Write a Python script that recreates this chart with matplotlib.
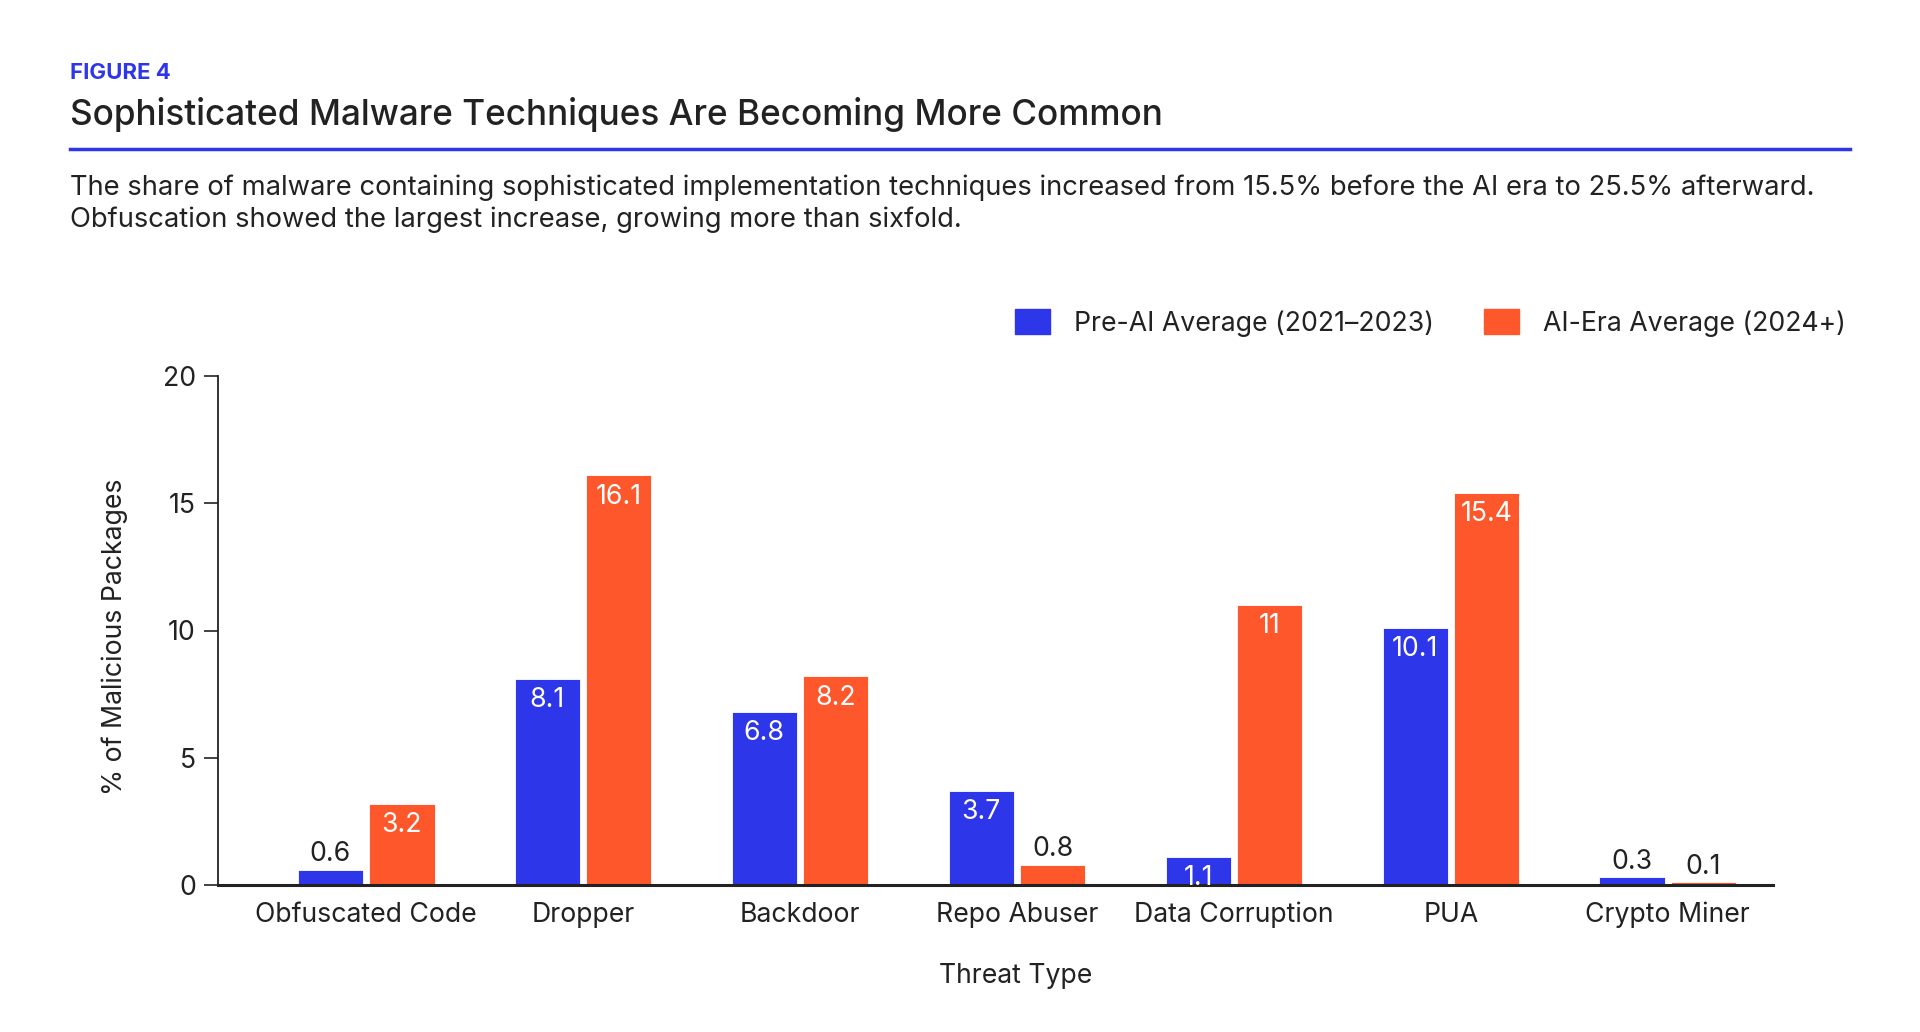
import matplotlib.pyplot as plt
import numpy as np
from matplotlib.patches import Patch
from matplotlib.lines import Line2D

plt.rcParams['font.family'] = ['Inter', 'DejaVu Sans']

# data
categories = ['Obfuscated Code', 'Dropper', 'Backdoor', 'Repo Abuser',
              'Data Corruption', 'PUA', 'Crypto Miner']
pre_ai = [0.6, 8.1, 6.8, 3.7, 1.1, 10.1, 0.3]
ai_era = [3.2, 16.1, 8.2, 0.8, 11, 15.4, 0.1]
series_names = ['Pre-AI Average (2021\u20132023)', 'AI-Era Average (2024+)']

BLUE = '#2e36ea'
ORANGE = '#ff572c'
DARK = '#222222'
FS = 19.2

fig = plt.figure(figsize=(19.2, 10.32), dpi=100)
ax = fig.add_axes([218 / 1920, 1 - 885 / 1032, (1773 - 218) / 1920, (885 - 376) / 1032])

x = np.arange(len(categories))
w = 0.30
off = 0.165
b1 = ax.bar(x - off, pre_ai, w, color=BLUE, edgecolor='white', linewidth=0.6)
b2 = ax.bar(x + off, ai_era, w, color=ORANGE, edgecolor='white', linewidth=0.6)


def label_bars(bars, vals):
    for rect, v in zip(bars, vals):
        cx = rect.get_x() + rect.get_width() / 2
        txt = f'{v:g}'
        if v >= 1.0:
            ax.annotate(txt, (cx, v), xytext=(0, -6), textcoords='offset points',
                        ha='center', va='top', color='white', fontsize=FS)
        else:
            ax.annotate(txt, (cx, v), xytext=(0, 2), textcoords='offset points',
                        ha='center', va='bottom', color=DARK, fontsize=FS)


label_bars(b1, pre_ai)
label_bars(b2, ai_era)

ax.set_xlim(-0.683, 6.485)
ax.set_ylim(0, 20)
ax.set_yticks([0, 5, 10, 15, 20])
ax.set_xticks(x)
ax.set_xticklabels(categories, fontsize=FS, color=DARK)
ax.tick_params(axis='x', length=0, pad=12)
ax.tick_params(axis='y', length=10, width=1.2, color=DARK, labelsize=FS,
               labelcolor=DARK, pad=6)
for s in ['top', 'right']:
    ax.spines[s].set_visible(False)
ax.spines['left'].set_color(DARK)
ax.spines['left'].set_linewidth(1.3)
ax.spines['bottom'].set_color(DARK)
ax.spines['bottom'].set_linewidth(2.2)

ax.set_ylabel('% of Malicious Packages', fontsize=FS, color=DARK)
ax.yaxis.set_label_coords(-0.058, 0.487)
ax.set_xlabel('Threat Type', fontsize=FS, color=DARK)
ax.xaxis.set_label_coords((1016 - 218) / (1773 - 218), -(963 - 885) / (885 - 376))

# header
fig.text(70 / 1920, 1 - 73 / 1032, 'FIGURE 4', color=BLUE, fontsize=16,
         fontweight='bold', va='center', ha='left')
fig.text(70 / 1920, 1 - 115 / 1032,
         'Sophisticated Malware Techniques Are Becoming More Common',
         color=DARK, fontsize=25.3, fontweight='medium', va='center', ha='left')
fig.add_artist(Line2D([70 / 1920, 1850 / 1920], [1 - 149 / 1032, 1 - 149 / 1032],
                      color=BLUE, linewidth=2.5, transform=fig.transFigure))
fig.text(70 / 1920, 1 - 188 / 1032,
         'The share of malware containing sophisticated implementation techniques '
         'increased from 15.5% before the AI era to 25.5% afterward.',
         color=DARK, fontsize=19.7, va='center', ha='left')
fig.text(70 / 1920, 1 - 220 / 1032,
         'Obfuscation showed the largest increase, growing more than sixfold.',
         color=DARK, fontsize=19.7, va='center', ha='left')

handles = [Patch(color=BLUE), Patch(color=ORANGE)]
fig.legend(handles, series_names, loc='center right',
           bbox_to_anchor=(1846 / 1920, 1 - 323 / 1032), ncol=2, frameon=False,
           fontsize=FS, handlelength=1.3, handleheight=1.05, handletextpad=0.9,
           columnspacing=1.9, labelcolor=DARK, borderpad=0, borderaxespad=0)

plt.savefig('out.png', dpi=100)
